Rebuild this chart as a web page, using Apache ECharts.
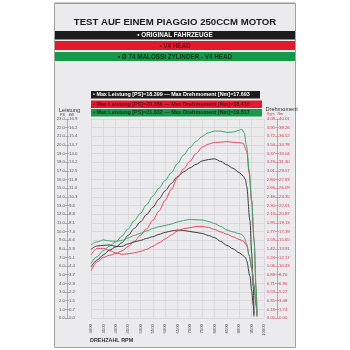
<!DOCTYPE html>
<html>
<head>
<meta charset="utf-8">
<script src="https://cdn.jsdelivr.net/npm/echarts@6/dist/echarts.min.js"></script>
<style>
html,body{margin:0;padding:0;background:#fff}
#chart{width:350px;height:350px}
</style>
</head>
<body>
<div id="chart"></div>
<script>
// Engine speed ticks (rpm)
const rpmTicks = [3000,3500,4000,4500,5000,5500,6000,6500,7000,7500,8000,8500,9000,9500,10000];

// Left scale: power in PS with kW equivalents
const psTicks = ['0.0','1.0','2.0','3.0','4.0','5.0','6.0','7.0','8.0','9.0','10.0','11.0','12.0','13.0','14.0','15.0','16.0','17.0','18.0','19.0','20.0','21.0','22.0','23.0'];
const kwTicks = ['0.0','0.7','1.5','2.2','2.9','3.7','4.4','5.1','5.9','6.6','7.4','8.1','8.8','9.6','10.3','11.0','11.8','12.5','13.2','14.0','14.7','15.4','16.2','16.9'];

// Right scale: torque in Nm with Kgm equivalents
const nmTicks = ['0.00','1.74','3.48','5.22','6.96','8.70','10.43','12.17','13.91','15.65','17.39','19.13','20.87','22.61','24.35','26.09','27.83','29.57','31.30','33.04','34.78','36.52','38.26','40.01'];
const kgmTicks = ['0.00','0.18','0.35','0.53','0.71','0.89','1.06','1.24','1.42','1.59','1.77','1.95','2.13','2.30','2.48','2.66','2.84','3.01','3.19','3.37','3.54','3.72','3.90','4.08'];

// Configurations and their peak figures
const runNames = ['ORIGINAL FAHRZEUGE', 'V4 HEAD', 'Ø 74 MALOSSI ZYLINDER - V4 HEAD'];
const maxPower = ['18.399', '20.386', '21.832'];
const maxTorque = ['17.693', '18.410', '19.817'];

// Power curves [rpm, PS]
const originalPower = [[3000,5.9],[3250,6.7],[3500,7.3],[3750,7.85],[4000,8.2],[4250,8.7],[4500,9.55],[4750,10.35],[5000,11.1],[5250,11.95],[5500,12.8],[5750,13.75],[6000,14.7],[6250,15.55],[6500,16.35],[6750,16.9],[7000,17.35],[7250,17.75],[7500,18.15],[7750,18.32],[8000,18.399],[8250,18.1],[8500,17.7],[8750,17.3],[9000,16.8],[9150,16.45],[9250,16.0],[9300,15.2],[9430,11.3],[9500,7.5],[9565,3.6],[9595,0.4]];
const v4Power = [[3000,5.45],[3250,6.5],[3500,7.0],[3750,7.25],[4000,7.45],[4250,7.75],[4500,8.25],[4750,8.85],[5000,9.55],[5250,10.3],[5500,11.3],[5750,12.35],[6000,13.6],[6250,14.85],[6500,16.2],[6750,17.25],[7000,18.1],[7250,19.0],[7500,19.75],[7750,20.1],[8000,20.28],[8250,20.32],[8500,20.386],[8750,20.31],[9000,20.25],[9150,20.2],[9300,19.3],[9400,16.7],[9500,13.5],[9600,8.9],[9680,3.4],[9715,0.4]];
const malossiPower = [[3000,6.3],[3250,7.1],[3500,7.8],[3750,8.3],[4000,8.8],[4250,9.45],[4500,10.3],[4750,11.25],[5000,12.1],[5250,13.1],[5500,14.1],[5750,15.0],[6000,15.9],[6250,16.8],[6500,17.85],[6750,18.85],[7000,19.7],[7250,20.4],[7500,21.0],[7750,21.4],[8000,21.6],[8250,21.6],[8500,21.45],[8750,21.5],[9000,21.7],[9100,21.832],[9200,21.4],[9300,19.8],[9400,17.0],[9500,13.6],[9600,9.0],[9680,3.5],[9720,0.4]];

// Torque curves [rpm, Nm]
const originalTorque = [[3000,13.8],[3250,14.5],[3500,14.6],[3750,14.7],[4000,14.4],[4250,14.4],[4500,14.9],[4750,15.3],[5000,15.6],[5250,16.0],[5500,16.35],[5750,16.8],[6000,17.2],[6250,17.5],[6500,17.693],[6750,17.6],[7000,17.4],[7250,17.2],[7500,17.0],[7750,16.6],[8000,16.15],[8250,15.4],[8500,14.6],[8750,13.9],[9000,13.1],[9150,12.6],[9250,12.1],[9300,11.5],[9430,8.4],[9500,5.5],[9565,2.6],[9595,0.3]];
const v4Torque = [[3000,12.7],[3250,14.0],[3500,14.0],[3750,13.6],[4000,13.1],[4250,12.8],[4500,12.9],[4750,13.1],[5000,13.4],[5250,13.8],[5500,14.4],[5750,15.1],[6000,15.9],[6250,16.7],[6500,17.5],[6750,17.95],[7000,18.15],[7250,18.4],[7500,18.41],[7750,18.2],[8000,17.8],[8250,17.3],[8500,16.85],[8750,16.3],[9000,15.8],[9150,15.5],[9300,14.6],[9400,12.5],[9500,10.0],[9600,6.5],[9680,2.5],[9715,0.3]];
const malossiTorque = [[3000,14.7],[3250,15.3],[3500,15.7],[3750,15.5],[4000,15.4],[4250,15.6],[4500,16.1],[4750,16.6],[5000,17.0],[5250,17.5],[5500,18.0],[5750,18.35],[6000,18.6],[6250,18.9],[6500,19.3],[6750,19.6],[7000,19.817],[7250,19.75],[7500,19.7],[7750,19.4],[8000,19.0],[8250,18.4],[8500,17.7],[8750,17.3],[9000,16.95],[9100,16.8],[9200,16.2],[9300,14.9],[9400,12.6],[9500,10.1],[9600,6.6],[9680,2.6],[9720,0.3]];

const COLORS = { original: '#3b3b3b', v4: '#e4475f', malossi: '#3ea46c' };
const BAND = ['#1c1c1c', '#e3192c', '#17994a'];
const BAND_TEXT = ['#ffffff', '#6d0a14', '#0b3317'];

const NARROW = '"Liberation Sans Narrow", "Liberation Sans", Arial, sans-serif';
const SANS = '"Liberation Sans", Arial, sans-serif';

const psMax = psTicks.length - 1;
const nmMax = parseFloat(nmTicks[nmTicks.length - 1]);
const nmStep = nmMax / psMax;

const chart = echarts.init(document.getElementById('chart'), null, { renderer: 'canvas' });

function line(name, data, color, axis) {
  return {
    name, type: 'line', data, yAxisIndex: axis,
    showSymbol: false, smooth: 0.3, smoothMonotone: 'x',
    lineStyle: { color, width: 1 }, emphasis: { disabled: true }, z: 3
  };
}

const graphics = [
  { type: 'rect', z: -10, shape: { x: 54.5, y: 3.5, width: 241, height: 344 }, style: { fill: '#ebebed', stroke: '#a2a2a4', lineWidth: 1 } },
  { type: 'rect', z: -9, shape: { x: 54.5, y: 2.5, width: 241, height: 1.5 }, style: { fill: '#9a9a9c' } }
];
const bandY = [31, 41, 52];
const bandH = [8.5, 9, 9];
runNames.forEach((n, i) => {
  graphics.push({ type: 'rect', z: -8, shape: { x: 55, y: bandY[i], width: 240, height: bandH[i] }, style: { fill: BAND[i] } });
  graphics.push({ type: 'text', z: -7, x: 175, y: bandY[i] + bandH[i] / 2 + 0.3,
    style: { text: '• ' + n, fill: BAND_TEXT[i], font: 'bold 6.3px ' + SANS, textAlign: 'center', textVerticalAlign: 'middle' } });
});
const boxY = [91, 100.5, 109];
const boxW = [169, 171, 171];
runNames.forEach((n, i) => {
  graphics.push({ type: 'rect', z: -8, shape: { x: 91, y: boxY[i], width: boxW[i], height: 7.5 }, style: { fill: BAND[i] } });
  graphics.push({ type: 'text', z: -7, x: 93, y: boxY[i] + 4,
    style: { text: '• Max Leistung [PS]=' + maxPower[i] + ' — Max Drehmoment [Nm]=' + maxTorque[i],
      fill: BAND_TEXT[i], font: 'bold 5.4px ' + SANS, textVerticalAlign: 'middle' } });
});
graphics.push(
  { type: 'text', x: 59, y: 110, style: { text: 'Leistung', fill: '#333', font: '5.6px ' + SANS, textVerticalAlign: 'middle' } },
  { type: 'text', x: 60, y: 114.6, style: { text: 'PS    kW', fill: '#444', font: '3.6px ' + SANS, textVerticalAlign: 'middle' } },
  { type: 'text', x: 265.5, y: 109.5, style: { text: 'Drehmoment', fill: '#333', font: '5.6px ' + SANS, textVerticalAlign: 'middle' } },
  { type: 'text', x: 267, y: 114, style: { text: 'Kgm   Nm', fill: '#d2334f', font: '3.6px ' + SANS, textVerticalAlign: 'middle' } },
  { type: 'text', x: 90, y: 340.5, style: { text: 'DREHZAHL RPM', fill: '#333', font: 'bold 5.4px ' + SANS, textVerticalAlign: 'middle' } }
);

const labelFont = { fontSize: 4.3, fontFamily: NARROW };

chart.setOption({
  animation: false,
  backgroundColor: '#ffffff',
  title: {
    text: 'TEST AUF EINEM PIAGGIO 250CCM MOTOR',
    left: 'center', top: 12,
    textStyle: { fontSize: 9.6, fontWeight: 'bold', fontFamily: NARROW, color: '#1a1a1a' }
  },
  graphic: graphics,
  grid: { left: 91, right: 86, top: 119, bottom: 32, containLabel: false },
  xAxis: {
    type: 'value', min: rpmTicks[0], max: rpmTicks[rpmTicks.length - 1], interval: rpmTicks[1] - rpmTicks[0],
    axisLine: { show: false }, axisTick: { show: false },
    axisLabel: { rotate: 90, margin: 6, color: '#555', formatter: v => String(v), ...labelFont },
    splitLine: { show: true, lineStyle: { color: '#d3d3d7', width: 0.7 } }
  },
  yAxis: [
    {
      type: 'value', min: 0, max: psMax, interval: 1, position: 'left', offset: 24,
      axisLine: { show: true, lineStyle: { color: '#9c9c9c', width: 0.8 } },
      axisTick: { show: true, length: 2, lineStyle: { color: '#8c8c8c', width: 0.6 } },
      axisLabel: { margin: 2, color: '#555', formatter: v => psTicks[Math.round(v)], ...labelFont },
      splitLine: { show: true, lineStyle: { color: '#d3d3d7', width: 0.7 } }
    },
    {
      type: 'value', min: 0, max: psMax, interval: 1, position: 'left', offset: 24,
      axisLine: { show: false },
      axisTick: { show: true, inside: true, length: 2, lineStyle: { color: '#8c8c8c', width: 0.6 } },
      axisLabel: { inside: true, margin: 2, color: '#555', formatter: v => kwTicks[Math.round(v)], ...labelFont },
      splitLine: { show: false }
    },
    {
      type: 'value', min: 0, max: nmMax, interval: nmStep, position: 'right', offset: 13,
      axisLine: { show: true, lineStyle: { color: '#9c9c9c', width: 0.8 } },
      axisTick: { show: true, length: 2, lineStyle: { color: '#c77', width: 0.6 } },
      axisLabel: { margin: 2, color: '#d2334f', formatter: v => nmTicks[Math.round(v / nmStep)], ...labelFont },
      splitLine: { show: false }
    },
    {
      type: 'value', min: 0, max: nmMax, interval: nmStep, position: 'right', offset: 13,
      axisLine: { show: false },
      axisTick: { show: true, inside: true, length: 2, lineStyle: { color: '#c77', width: 0.6 } },
      axisLabel: { inside: true, margin: 2, color: '#d2334f', formatter: v => kgmTicks[Math.round(v / nmStep)], ...labelFont },
      splitLine: { show: false }
    }
  ],
  series: [
    line('Original Leistung', originalPower, COLORS.original, 0),
    line('V4 Leistung', v4Power, COLORS.v4, 0),
    line('Malossi Leistung', malossiPower, COLORS.malossi, 0),
    line('Original Drehmoment', originalTorque, COLORS.original, 2),
    line('V4 Drehmoment', v4Torque, COLORS.v4, 2),
    line('Malossi Drehmoment', malossiTorque, COLORS.malossi, 2)
  ]
});
</script>
</body>
</html>
